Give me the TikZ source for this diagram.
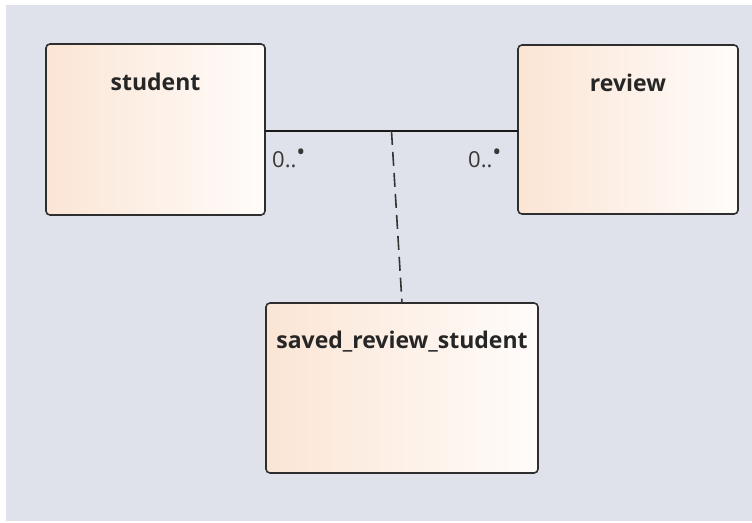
\documentclass[tikz,border=0pt]{standalone}
\usepackage{fontspec}
\setmainfont{Open Sans}
\usetikzlibrary{calc}
\definecolor{canvas}{HTML}{DFE2EB}
\definecolor{peach}{HTML}{FBE5D5}
\definecolor{cream}{HTML}{FFFCFA}
\definecolor{edge}{HTML}{2E2E2E}
\tikzset{
  entity/.style={draw=edge, line width=1.6pt, rounded corners=4pt,
    left color=peach, right color=cream, shading angle=90,
    inner sep=0pt, outer sep=0pt},
  title/.style={font=\bfseries\fontsize{23}{26}\selectfont, text=black!85, anchor=center},
  mult/.style={font=\fontsize{22}{24}\selectfont, text=black!78, anchor=west, inner sep=0pt},
  assoc/.style={draw=black!90, line width=1.6pt},
  link/.style={draw=black!80, line width=1.6pt, dash pattern=on 14pt off 7pt}
}
\newcommand{\multdot}{\raisebox{0.32em}{\fontsize{24}{24}\selectfont\textbullet}}
\begin{document}
\begin{tikzpicture}[x=1pt, y=-1pt]
  \useasboundingbox (0,0) rectangle (752,522);
  \fill[white] (0,0) rectangle (752,522);
  \fill[canvas] (6,5) rectangle (752,521);

  % classes
  \path[entity] (46,44) rectangle (265,215);
  \node[minimum width=219pt, minimum height=171pt, inner sep=0pt] (student) at (155.5,129.5) {};
  \node[title] at (155.5,82) {student};

  \path[entity] (518,45) rectangle (738,214);
  \node[minimum width=220pt, minimum height=169pt, inner sep=0pt] (review) at (628,129.5) {};
  \node[title] at (628,83) {review};

  \path[entity] (266,303) rectangle (538,473);
  \node[minimum width=272pt, minimum height=170pt, inner sep=0pt] (saved) at (402,388) {};
  \node[title] at (402,342) {saved\_review\_student};

  % association and association class link
  \coordinate (sl) at (student.east |- 0,131);
  \coordinate (rl) at (review.west |- 0,131);
  \draw[assoc] (sl) -- (rl);
  \coordinate (mid) at ($(sl)!0.5!(rl)$);
  \draw[link] (mid) -- (saved.north);

  % multiplicities
  \node[mult] (m1) at (272,158) {0..\multdot};
  \node[mult] (m2) at (468,158) {0..\multdot};
\end{tikzpicture}
\end{document}
